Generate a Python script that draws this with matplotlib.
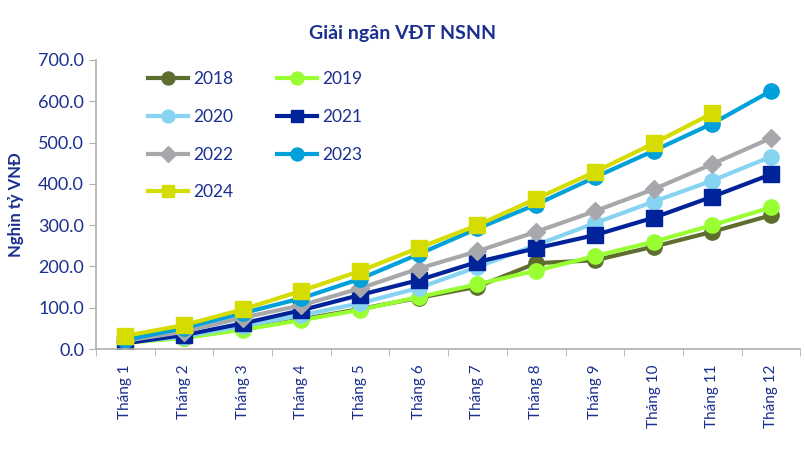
import matplotlib
matplotlib.use('Agg')
import numpy as np
from matplotlib import pyplot as plt
from matplotlib.ticker import FormatStrFormatter, FixedLocator

plt.rcParams['font.family'] = ['Lato', 'DejaVu Sans']

months = ['Tháng 1', 'Tháng 2', 'Tháng 3', 'Tháng 4', 'Tháng 5', 'Tháng 6',
          'Tháng 7', 'Tháng 8', 'Tháng 9', 'Tháng 10', 'Tháng 11', 'Tháng 12']

y2018 = [18, 28, 48, 72, 97, 124, 151, 208, 215, 248, 284, 324]
y2019 = [15, 27, 47, 70, 95, 126, 157, 190, 225, 260, 300, 343]
y2020 = [16, 30, 56, 82, 111, 148, 199, 252, 305, 357, 408, 466]
y2021 = [14, 34, 62, 94, 131, 167, 211, 244, 276, 318, 369, 423]
y2022 = [20, 42, 76, 106, 147, 195, 237, 284, 334, 387, 448, 511]
y2023 = [22, 51, 87, 123, 170, 230, 292, 350, 416, 480, 546, 625]
y2024 = [32, 58, 96, 141, 189, 245, 300, 364, 429, 498, 571]

navy = '#1b2f8f'

series = [
    ('2018', y2018, '#5e6e2e', 'o'),
    ('2019', y2019, '#99ff33', 'o'),
    ('2020', y2020, '#87d4f2', 'o'),
    ('2021', y2021, '#00239a', 's'),
    ('2022', y2022, '#a7a8ab', 'D'),
    ('2023', y2023, '#00a0db', 'o'),
    ('2024', y2024, '#d4dc00', 's'),
]

fig = plt.figure(figsize=(8.06, 4.51), dpi=100)
ax = fig.add_axes([0.119, 0.226, 0.874, 0.641])

lines = {}
for name, vals, col, mk in series:
    x = np.arange(len(vals))
    ms = 9 if mk == 'D' else 11
    ln, = ax.plot(x, vals, color=col, lw=3, marker=mk, ms=ms, label=name)
    lines[name] = ln

ax.set_xlim(-0.5, 11.5)
ax.set_ylim(0, 700)
ax.set_yticks(np.arange(0, 701, 100))
ax.yaxis.set_major_formatter(FormatStrFormatter('%.1f'))
ax.set_xticks(np.arange(12))
ax.set_xticklabels(months, rotation=90)
ax.xaxis.set_minor_locator(FixedLocator(np.arange(-0.5, 12, 1)))
ax.tick_params(axis='x', which='major', length=0, pad=11, labelsize=11, labelcolor=navy)
ax.tick_params(axis='x', which='minor', length=5, color='#b0b0b0', direction='out')
ax.tick_params(axis='y', length=5, color='#b0b0b0', labelsize=13, labelcolor=navy)

for s in ['top', 'right']:
    ax.spines[s].set_visible(False)
for s in ['left', 'bottom']:
    ax.spines[s].set_color('#b0b0b0')
    ax.spines[s].set_linewidth(1.2)

ax.set_ylabel('Nghìn tỷ VNĐ', color=navy, fontsize=12, fontweight='bold', labelpad=10)
fig.text(0.5, 0.925, 'Giải ngân VĐT NSNN', ha='center', va='center',
         color=navy, fontsize=14, fontweight='bold')

# legend filled column by column, so order the handles to read row-wise
order = ['2018', '2020', '2022', '2024', '2019', '2021', '2023']
leg = ax.legend([lines[k] for k in order], order, ncol=2, loc='upper left',
                bbox_to_anchor=(0.052, 1.015), frameon=False, fontsize=12.5,
                handlelength=2.3, columnspacing=2.5, labelspacing=1.25,
                handletextpad=0.3, markerscale=0.85)
for t in leg.get_texts():
    t.set_color(navy)

plt.savefig('out.png', dpi=100)
